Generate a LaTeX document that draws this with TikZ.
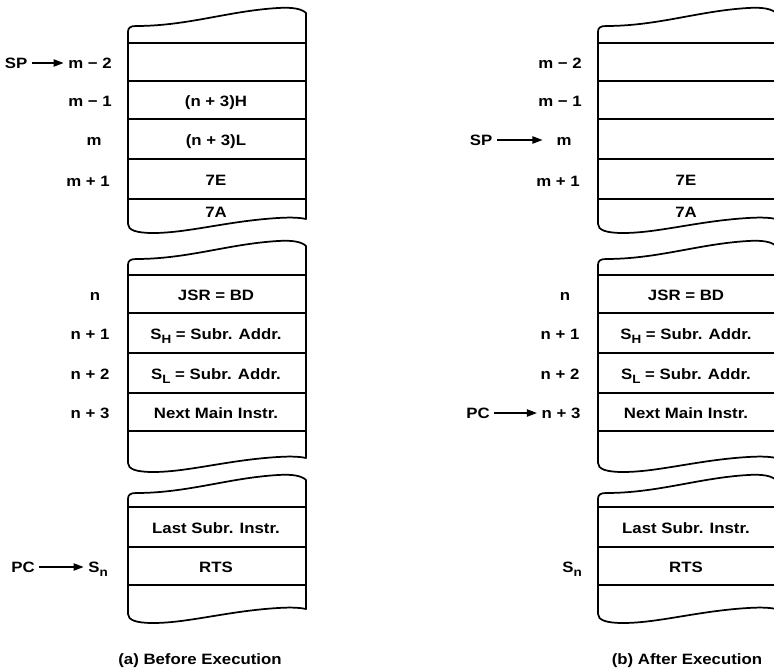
\documentclass[tikz,border=0pt]{standalone}
\usepackage{fontspec}
\setmainfont{Liberation Sans}[FakeStretch=1.12]
\usetikzlibrary{arrows.meta}
\tikzset{>={Stealth[length=7.5pt,width=5.5pt,inset=0pt]}}
\tikzset{
  blockline/.style={line width=1.3pt,line join=round},
  rowline/.style={line width=1pt},
  addr/.style={text height=8pt,text depth=0pt},
  cell/.style={text height=8pt,text depth=0pt},
  ptr/.style={->,line width=0.9pt},
  caption/.style={text height=8pt,text depth=0pt}
}
% torn memory block: left x, top y at the left, lowest y of the bottom edge
\newcommand{\memblock}[3]{%
  \draw[blockline] (#1+178,#3-14) -- (#1+178,#2-13)
    .. controls (#1+174,#2-17) and (#1+165,#2-19) .. (#1+150,#2-18)
    .. controls (#1+100,#2-15) and (#1+60,#2) .. (#1+8,#2)
    .. controls (#1+2,#2) and (#1,#2+2) .. (#1,#2+6)
    -- (#1,#3-9)
    .. controls (#1,#3-3) and (#1+8,#3) .. (#1+25,#3)
    .. controls (#1+60,#3) and (#1+100,#3-12) .. (#1+150,#3-15)
    .. controls (#1+165,#3-16) and (#1+174,#3-15) .. cycle;%
}
\newcommand{\lowsub}[1]{\raisebox{-0.5ex}{\small #1}}

\begin{document}
\begin{tikzpicture}[x=0.75pt,y=-0.75pt,font=\fontsize{11.25}{13}\selectfont\bfseries]
    \useasboundingbox (0,0) rectangle (774,670);
    \clip (0,0) rectangle (774,670);

    \foreach \dx in {0,470}{
      \memblock{128+\dx}{26}{233}
      \memblock{128+\dx}{259}{472}
      \memblock{128+\dx}{493}{623}
      \foreach \y in {43,81,119,159,199,275,313,353,393,431,507,547,585}
        \draw[rowline] (128+\dx,\y) -- ++(178,0);
    }

    % (a) before execution
    \node[addr] (spA) at (16,63) {SP};
    \node[addr] (mtwoA) at (90,63) {m − 2};
    \node[addr] (moneA) at (90,101) {m − 1};
    \node[addr] (mA) at (94,140) {m};
    \node[addr] (mpA) at (88,181) {m + 1};
    \node[cell] (hiA) at (216,101) {(n + 3)H};
    \node[cell] (loA) at (216,140) {(n + 3)L};
    \node[cell] (seA) at (216,180) {7E};
    \node[cell] (saA) at (216,212) {7A};
    \node[addr] (nA) at (95,295) {n};
    \node[addr] (noneA) at (90,334) {n + 1};
    \node[addr] (ntwoA) at (90,374) {n + 2};
    \node[addr] (nthreeA) at (90,413) {n + 3};
    \node[cell] (jsrA) at (216,295) {JSR = BD};
    \node[cell] (shA) at (216,334) {S\lowsub{H} = Subr. Addr.};
    \node[cell] (slA) at (216,374) {S\lowsub{L} = Subr. Addr.};
    \node[cell] (nextA) at (216,413) {Next Main Instr.};
    \node[cell] (lastA) at (216,528) {Last Subr. Instr.};
    \node[cell] (rtsA) at (216,567) {RTS};
    \node[addr] (pcA) at (23,567) {PC};
    \node[addr] (snA) at (98,567) {S\lowsub{n}};
    \draw[ptr] (spA) -- (mtwoA);
    \draw[ptr] (pcA) -- (snA);
    \node[caption] (capA) at (200,659) {(a) Before Execution};

    % (b) after execution
    \node[addr] (spB) at (481,140) {SP};
    \node[addr] (mtwoB) at (560,63) {m − 2};
    \node[addr] (moneB) at (560,101) {m − 1};
    \node[addr] (mB) at (564,140) {m};
    \node[addr] (mpB) at (558,181) {m + 1};
    \node[cell] (seB) at (686,180) {7E};
    \node[cell] (saB) at (686,212) {7A};
    \node[addr] (nB) at (565,295) {n};
    \node[addr] (noneB) at (560,334) {n + 1};
    \node[addr] (ntwoB) at (560,374) {n + 2};
    \node[addr] (nthreeB) at (561,413) {n + 3};
    \node[cell] (jsrB) at (686,295) {JSR = BD};
    \node[cell] (shB) at (686,334) {S\lowsub{H} = Subr. Addr.};
    \node[cell] (slB) at (686,374) {S\lowsub{L} = Subr. Addr.};
    \node[cell] (nextB) at (686,413) {Next Main Instr.};
    \node[cell] (lastB) at (686,528) {Last Subr. Instr.};
    \node[cell] (rtsB) at (686,567) {RTS};
    \node[addr] (pcB) at (478,413) {PC};
    \node[addr] (snB) at (572,567) {S\lowsub{n}};
    \draw[ptr,shorten >=7pt] (spB) -- (mB);
    \draw[ptr] (pcB) -- (nthreeB);
    \node[caption] (capB) at (687,659) {(b) After Execution};
\end{tikzpicture}
\end{document}
